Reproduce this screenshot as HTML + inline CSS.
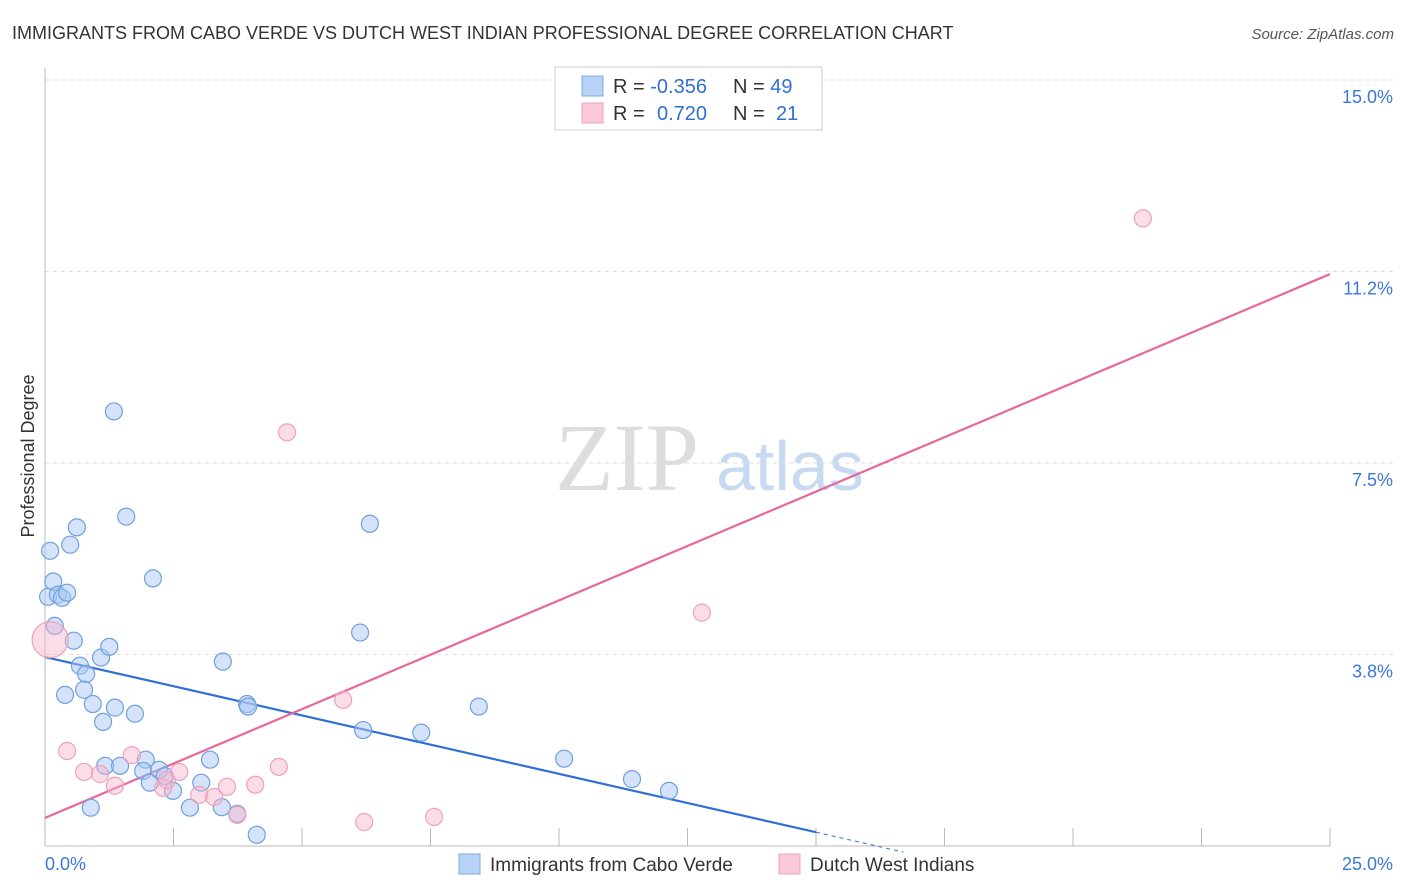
<!DOCTYPE html>
<html><head><meta charset="utf-8"><style>
body{margin:0;background:#fff;font-family:"Liberation Sans",sans-serif;}
svg{display:block}
</style></head><body>
<svg id="chart" width="1406" height="892">
<text x="12" y="39" font-size="18" fill="#333">IMMIGRANTS FROM CABO VERDE VS DUTCH WEST INDIAN PROFESSIONAL DEGREE CORRELATION CHART</text>
<text x="1394" y="39" font-size="15" fill="#555" font-style="italic" text-anchor="end">Source: ZipAtlas.com</text>
<text x="34" y="456" font-size="18" fill="#333" text-anchor="middle" transform="rotate(-90 34 456)">Professional Degree</text>
<text x="555" y="490" font-size="96" fill="#ddd" font-family="Liberation Serif,serif">ZIP</text>
<text x="716" y="490" font-size="70" fill="#c8daf2">atlas</text>
<g id="grid"></g>
<g id="axes"></g>
<g id="lines"></g>
<g id="points"></g>
<g>
<rect x="555" y="67" width="267" height="63" fill="#fff" stroke="#ccc"/>
<rect x="582" y="76" width="21" height="20" fill="#b8d2f5" stroke="#7ea9e3"/>
<rect x="582" y="103" width="21" height="20" fill="#fac8d8" stroke="#f0a0bc"/>
<text x="613" y="93" font-size="20" fill="#333">R = <tspan fill="#2f6fd6">-0.356</tspan><tspan x="733">N = </tspan><tspan fill="#2f6fd6">49</tspan></text>
<text x="613" y="120" font-size="20" fill="#333">R = <tspan x="657" fill="#2f6fd6">0.720</tspan><tspan x="733">N = </tspan><tspan x="776" fill="#2f6fd6">21</tspan></text>
</g>
<g>
<rect x="459" y="854" width="21" height="20" fill="#b8d2f5" stroke="#7ea9e3"/>
<text x="490" y="871" font-size="19" fill="#333">Immigrants from Cabo Verde</text>
<rect x="779" y="854" width="21" height="20" fill="#fac8d8" stroke="#f0a0bc"/>
<text x="810" y="871" font-size="19" fill="#333">Dutch West Indians</text>
</g>
</svg>
<script>
const yTicks=[3.75,7.5,11.25,15];
const yTickLabels=["3.8%","7.5%","11.2%","15.0%"];
const xTicks=[0,2.5,5,7.5,10,12.5,15,17.5,20,22.5,25];
const blueX=[0.06,0.16,0.10,0.25,0.33,0.43,0.19,0.49,0.62,0.56,0.68,0.80,0.76,0.39,0.93,1.13,1.09,1.25,1.36,1.34,1.58,1.75,2.10,1.17,1.46,1.96,1.91,2.04,2.22,2.33,2.49,2.82,3.04,3.21,3.44,3.46,3.74,3.93,3.95,4.12,0.89,6.13,6.32,6.19,7.32,8.44,10.10,11.42,12.14];
const blueY=[4.88,5.18,5.78,4.92,4.86,4.96,4.31,5.90,6.24,4.02,3.53,3.37,3.06,2.96,2.78,2.43,3.69,3.90,2.71,8.51,6.45,2.59,5.24,1.57,1.57,1.69,1.47,1.24,1.49,1.37,1.08,0.75,1.24,1.69,0.76,3.61,0.63,2.78,2.73,0.22,0.75,4.18,6.31,2.27,2.22,2.73,1.71,1.31,1.08];
const pinkX=[0.10,0.43,0.76,1.07,1.36,1.69,2.30,2.37,2.61,3.00,3.29,3.54,3.74,4.09,4.55,4.71,5.80,6.21,7.57,12.78,21.36];
const pinkY=[4.04,1.86,1.45,1.41,1.18,1.78,1.14,1.29,1.45,1.00,0.96,1.16,0.61,1.20,1.55,8.10,2.86,0.47,0.57,4.57,12.29];
const blueTrendX=[0,15,16.7];
const blueTrendY=[3.70,0.27,-0.12];
const pinkTrendX=[0,25];
const pinkTrendY=[0.55,11.2];
const NS="http://www.w3.org/2000/svg";
const X0=45,X1=1330,Y0=846,Y1=80;
function sx(v){return X0+(v/25)*(X1-X0);}
function sy(v){return Y0-(v/15)*(Y0-Y1);}
function mk(tag,attrs,parent){const e=document.createElementNS(NS,tag);for(const k in attrs)e.setAttribute(k,attrs[k]);parent.appendChild(e);return e;}
const grid=document.getElementById('grid'),axes=document.getElementById('axes'),lines=document.getElementById('lines'),pts=document.getElementById('points');
yTicks.forEach((t,i)=>{
 const l=mk('line',{x1:X0,x2:1394,y1:sy(t),y2:sy(t),stroke:'#ddd','stroke-dasharray':'4,4'},grid);
 
 
 const tx=mk('text',{x:1393,y:sy(t)+23,'font-size':18,fill:'#3b78d8','text-anchor':'end'},grid);
 tx.textContent=yTickLabels[i];
 
 
});
const ax=mk('line',{x1:X0,x2:X1,y1:Y0,y2:Y0,stroke:'#bbb'},axes);


const ay=mk('line',{x1:X0,x2:X0,y1:68,y2:Y0,stroke:'#bbb'},axes);


xTicks.forEach(t=>{
 const l=mk('line',{x1:sx(t),x2:sx(t),y1:Y0,y2:Y0-18,stroke:'#bbb'},axes);
 
 
});
const xl0=mk('text',{x:45,y:870,'font-size':18,fill:'#3b78d8'},axes);xl0.textContent='0.0%';


const xl1=mk('text',{x:1393,y:870,'font-size':18,fill:'#3b78d8','text-anchor':'end'},axes);xl1.textContent='25.0%';


function pt(x,y,r,fill,stroke,name){const c=mk('circle',{cx:sx(x),cy:sy(y),r:r,fill:fill,stroke:stroke,'stroke-width':1.2},pts);
 
 }
blueX.forEach((x,i)=>pt(x,blueY[i],8.5,'rgba(170,200,243,0.5)','#6fa0e0','cabo-verde-point'));
pinkX.forEach((x,i)=>pt(x,pinkY[i],i===0?18:8.5,'rgba(247,180,203,0.45)','#f0a0bc','dutch-west-indian-point'));
const bl=mk('line',{x1:sx(blueTrendX[0]),y1:sy(blueTrendY[0]),x2:sx(blueTrendX[1]),y2:sy(blueTrendY[1]),stroke:'#2f6fd6','stroke-width':2.2},lines);


const bd=mk('line',{x1:sx(blueTrendX[1]),y1:sy(blueTrendY[1]),x2:sx(blueTrendX[2]),y2:sy(blueTrendY[2]),stroke:'#2f6fd6','stroke-width':1,'stroke-dasharray':'4,4'},lines);


const pl=mk('line',{x1:sx(pinkTrendX[0]),y1:sy(pinkTrendY[0]),x2:sx(pinkTrendX[1]),y2:sy(pinkTrendY[1]),stroke:'#e8679a','stroke-width':2.2},lines);


</script>
</body></html>
